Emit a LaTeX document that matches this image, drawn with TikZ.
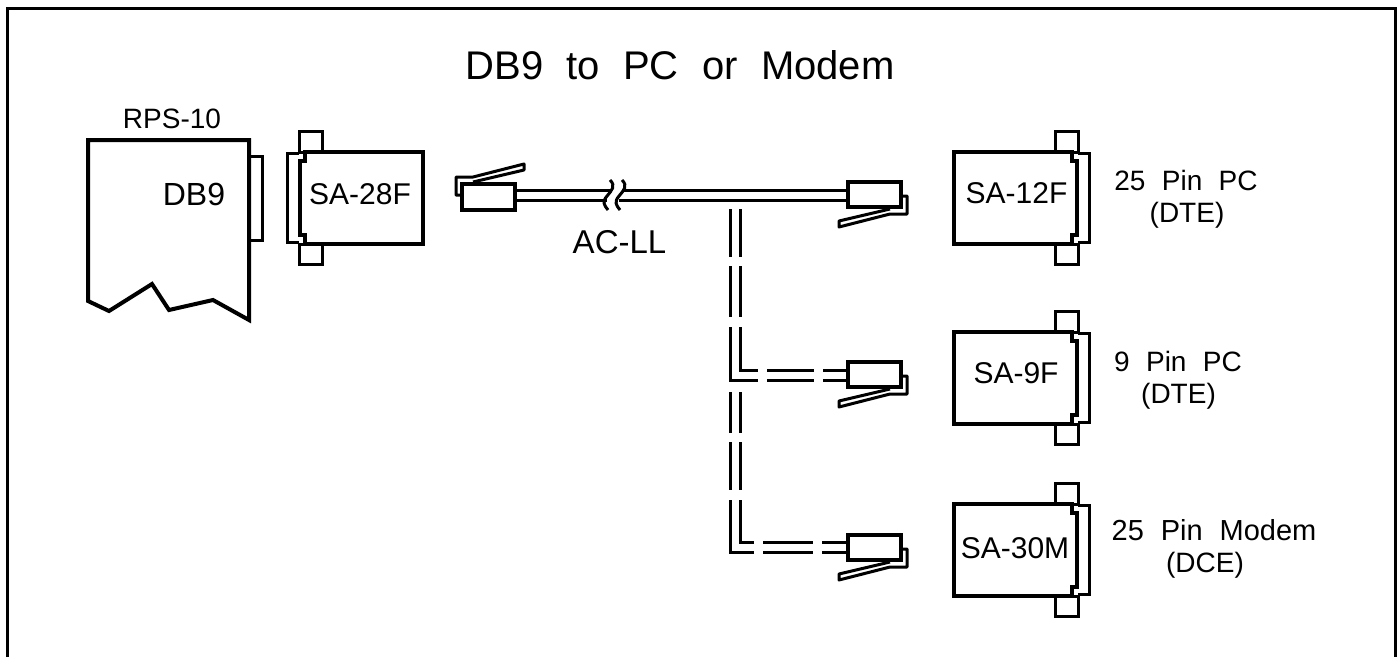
\documentclass[tikz,border=0pt]{standalone}
\usepackage{fontspec}
\setmainfont[WordSpace=2.1]{Liberation Sans}
\usetikzlibrary{calc}

\tikzset{
  label text/.style={inner sep=0pt,anchor=base},
  heavy/.style={line width=4pt,miter limit=2},
  thin part/.style={line width=3pt},
  adapter/.pic={
    % drawn opening to the left, mirrored with xscale for the right hand side
    \draw[thin part] (2,-18.5) rectangle (25,2);
    \draw[thin part] (2,94) rectangle (25,114);
    \draw[thin part] (2,3.5) -- (-9.5,3.5) -- (-9.5,92) -- (2,92);
    \draw[heavy,fill=white] (8,2) -- (126,2) -- (126,94) -- (8,94) -- (8,85) -- (3,85) -- (3,11) -- (8,11) -- cycle;
  },
  plug/.pic={
    % drawn with the cable to the left and the latch hanging down
    \draw[thin part,line join=round] (55,16) -- (61,16) -- (61,34) -- (44,34) -- (-7,47) -- (-7,41) -- (44,29);
    \draw[heavy,fill=white] (2,1.5) rectangle (55,27);
  }
}
\newcommand{\fs}[1]{\fontsize{#1}{#1}\selectfont}

\begin{document}
\begin{tikzpicture}[x=1pt,y=-1pt]
  \useasboundingbox (0,0) rectangle (1399,657);
  \draw[line width=3pt] (7.3,657) -- (7.3,8.5) -- (1395.5,8.5) -- (1395.5,657);

  \node[label text,font=\fs{40}] (title) at (680,79) {DB9 to PC or Modem};

  % the unit
  \draw[thin part] (249,156) rectangle (262,240);
  \draw[heavy] (249,320) -- (249,140) -- (88,140) -- (88,301) -- (109,311) -- (152,284) -- (169,310) -- (213,300) -- cycle;
  \node[label text,font=\fs{28}] (rps) at (172,128) {RPS-10};
  \node[label text,font=\fs{32}] (db9) at (194,205) {DB9};

  % the adapters
  \pic at (297,150) {adapter};
  \pic[xscale=-1] at (1080,150) {adapter};
  \pic[xscale=-1] at (1080,330) {adapter};
  \pic[xscale=-1] at (1080,502) {adapter};
  \node[label text,font=\fs{30}] (sa28) at (360,204) {SA-28F};
  \node[label text,font=\fs{30}] (sa12) at (1016.5,203) {SA-12F};
  \node[label text,font=\fs{30}] (sa9) at (1016,383) {SA-9F};
  \node[label text,font=\fs{30}] (sa30) at (1015,558) {SA-30M};

  % the plugs
  \pic[xscale=-1,yscale=-1] at (517,211) {plug};
  \pic at (846,180) {plug};
  \pic at (846,360) {plug};
  \pic at (846,533) {plug};

  % the cable
  \coordinate (cableA) at (517,190);
  \coordinate (cableB) at (517,200);
  \coordinate (cableC) at (846,190);
  \coordinate (cableD) at (846,200);
  \draw[thin part] (cableA) -- (612,190) (cableB) -- (607,200);
  \draw[thin part] (624,190) -- (cableC) (619,200) -- (cableD);
  \foreach \x in {0,12} {
    \draw[thin part] ($(610,180)+(\x,0)$) .. controls ($(616,186)+(\x,0)$) and ($(612,190)+(\x,0)$) .. ($(607,196)+(\x,0)$) .. controls ($(602,202)+(\x,0)$) and ($(604,205)+(\x,0)$) .. ($(608,210)+(\x,0)$);
  }
  \node[label text,font=\fs{33}] (acll) at (619.5,253) {AC-LL};

  % the dashed branches
  \foreach \xa/\ya/\yb in {730/209/257,730/266/317,740/209/257,740/266/317,730/392/433,730/442/490,740/392/433,740/442/490} {
    \draw[thin part] (\xa,\ya) -- (\xa,\yb);
  }
  \draw[thin part] (730,327) -- (730,380) -- (758,380) (740,327) -- (740,370) -- (758,370);
  \draw[thin part] (767,370) -- (814,370) (767,380) -- (814,380) (823,370) -- (846,370) (823,380) -- (846,380);
  \draw[thin part] (730,500) -- (730,552.5) -- (754,552.5) (740,500) -- (740,542.5) -- (754,542.5);
  \draw[thin part] (763,542.5) -- (813,542.5) (763,552.5) -- (813,552.5) (822,542.5) -- (846,542.5) (822,552.5) -- (846,552.5);

  % the labels on the right
  \node[label text,font=\fs{28}] (pc25) at (1186,190) {25 Pin PC};
  \node[label text,font=\fs{28}] (dte25) at (1187,222) {(DTE)};
  \node[label text,font=\fs{28}] (pc9) at (1178,371) {9 Pin PC};
  \node[label text,font=\fs{28}] (dte9) at (1178.5,403) {(DTE)};
  \node[label text,font=\fs{29}] (modem) at (1214,540) {25 Pin Modem};
  \node[label text,font=\fs{28}] (dce) at (1205,572) {(DCE)};
\end{tikzpicture}
\end{document}
